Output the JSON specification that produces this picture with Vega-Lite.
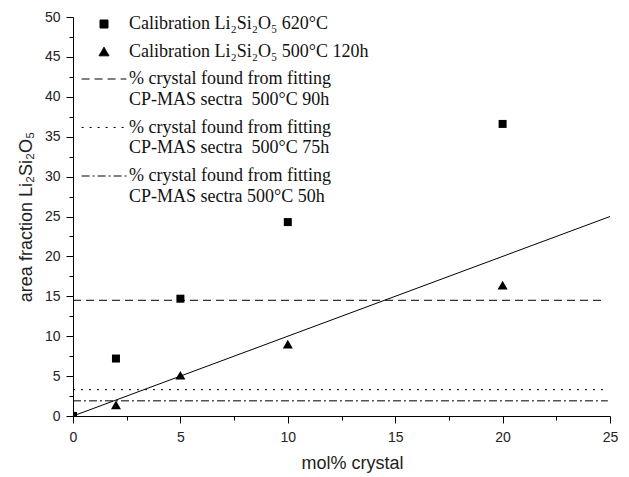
{
  "$schema": "https://vega.github.io/schema/vega-lite/v6.json",
  "width": 537,
  "height": 399,
  "autosize": "none",
  "padding": {"left": 73, "top": 17, "right": 19, "bottom": 61},
  "background": "white",
  "config": {
    "view": {"stroke": null},
    "axis": {
      "grid": false,
      "domainColor": "black",
      "domainWidth": 1,
      "tickColor": "black",
      "tickWidth": 1,
      "labelFont": "Liberation Sans",
      "labelFontSize": 14,
      "labelColor": "#222",
      "titleFont": "Liberation Sans",
      "titleFontSize": 18,
      "titleFontWeight": "normal",
      "titleColor": "#222"
    },
    "legend": {
      "labelFont": "Liberation Serif",
      "labelFontSize": 18,
      "labelColor": "#111",
      "labelLimit": 0,
      "symbolStrokeColor": "black",
      "symbolFillColor": "black",
      "symbolStrokeWidth": 1,
      "symbolSize": 64,
      "rowPadding": 9.5,
      "padding": 0
    }
  },
  "datasets": {
    "pts": [
      {"series": "Calibration Li₂Si₂O₅ 620°C", "x": 0, "y": 0},
      {"series": "Calibration Li₂Si₂O₅ 620°C", "x": 2, "y": 7.2},
      {"series": "Calibration Li₂Si₂O₅ 620°C", "x": 5, "y": 14.7},
      {"series": "Calibration Li₂Si₂O₅ 620°C", "x": 10, "y": 24.3},
      {"series": "Calibration Li₂Si₂O₅ 620°C", "x": 20, "y": 36.6},
      {"series": "Calibration Li₂Si₂O₅ 500°C 120h", "x": 2, "y": 1.4},
      {"series": "Calibration Li₂Si₂O₅ 500°C 120h", "x": 5, "y": 5.1},
      {"series": "Calibration Li₂Si₂O₅ 500°C 120h", "x": 10, "y": 9.0},
      {"series": "Calibration Li₂Si₂O₅ 500°C 120h", "x": 20, "y": 16.4}
    ],
    "refs": [
      {"series": "% crystal found from fitting|CP-MAS sectra\u00a0 500°C 90h", "x": 0, "x1": 24.7, "y": 14.5},
      {"series": "% crystal found from fitting|CP-MAS sectra\u00a0 500°C 75h", "x": 0, "x1": 24.85, "y": 3.3},
      {"series": "% crystal found from fitting|CP-MAS sectra 500°C 50h", "x": 0, "x1": 24.9, "y": 1.9}
    ],
    "fit": [
      {"x": 0, "y": 0},
      {"x": 25, "y": 25}
    ]
  },
  "encoding": {
    "x": {
      "field": "x", "type": "quantitative",
      "scale": {"domain": [0, 25], "nice": false, "zero": false},
      "axis": {
        "title": "mol% crystal",
        "values": [0, 2.5, 5, 7.5, 10, 12.5, 15, 17.5, 20, 22.5, 25],
        "labelExpr": "datum.value % 5 === 0 ? datum.label : ''",
        "tickSize": {"condition": {"test": "datum.value % 5 === 0", "value": 7}, "value": 4},
        "labelPadding": 7,
        "titlePadding": 10,
        "titleX": 279,
        "labelFlush": false
      }
    },
    "y": {
      "field": "y", "type": "quantitative",
      "scale": {"domain": [0, 50], "nice": false, "zero": false},
      "axis": {
        "title": "area fraction Li₂Si₂O₅",
        "values": [0, 2.5, 5, 7.5, 10, 12.5, 15, 17.5, 20, 22.5, 25, 27.5, 30, 32.5, 35, 37.5, 40, 42.5, 45, 47.5, 50],
        "labelExpr": "datum.value % 5 === 0 ? datum.label : ''",
        "tickSize": {"condition": {"test": "datum.value % 5 === 0", "value": 7}, "value": 4},
        "labelPadding": 6,
        "titlePadding": 9,
        "labelFlush": false
      }
    }
  },
  "layer": [
    {
      "data": {"name": "fit"},
      "mark": {"type": "line", "color": "black", "strokeWidth": 1}
    },
    {
      "data": {"name": "refs"},
      "mark": {"type": "rule", "color": "black", "strokeWidth": 1},
      "encoding": {
        "x2": {"field": "x1"},
        "strokeDash": {
          "field": "series", "type": "nominal",
          "scale": {
            "domain": ["Calibration Li₂Si₂O₅ 620°C", "Calibration Li₂Si₂O₅ 500°C 120h", "% crystal found from fitting|CP-MAS sectra\u00a0 500°C 90h", "% crystal found from fitting|CP-MAS sectra\u00a0 500°C 75h", "% crystal found from fitting|CP-MAS sectra 500°C 50h"],
            "range": [[1, 0], [1, 0], [8, 5], [2, 6], [8, 3, 2, 3]]
          },
          "legend": {
            "title": null, "orient": "none", "legendX": 22, "legendY": -2,
            "labelExpr": "indexof(datum.label, '|') >= 0 ? ['\u00a0' + split(datum.label, '|')[0], split(datum.label, '|')[1]] : '\u00a0' + datum.label",
            "labelOffset": 16,
            "encode": {
              "labels": {"update": {"lineHeight": {"value": 20.5}}}
            }
          }
        }
      }
    },
    {
      "data": {"name": "pts"},
      "mark": {"type": "point", "filled": true, "color": "black", "opacity": 1, "size": 64, "clip": true},
      "encoding": {
        "shape": {
          "field": "series", "type": "nominal",
          "scale": {
            "domain": ["Calibration Li₂Si₂O₅ 620°C", "Calibration Li₂Si₂O₅ 500°C 120h", "% crystal found from fitting|CP-MAS sectra\u00a0 500°C 90h", "% crystal found from fitting|CP-MAS sectra\u00a0 500°C 75h", "% crystal found from fitting|CP-MAS sectra 500°C 50h"],
            "range": ["square", "M0,-1.08L1.25,1.08H-1.25Z", "M-5.6,0H5.6", "M-5.6,0H5.6", "M-5.6,0H5.6"]
          },
          "legend": {
            "title": null, "orient": "none", "legendX": 22, "legendY": -2,
            "labelExpr": "indexof(datum.label, '|') >= 0 ? ['\u00a0' + split(datum.label, '|')[0], split(datum.label, '|')[1]] : '\u00a0' + datum.label",
            "labelOffset": 16,
            "encode": {
              "labels": {"update": {"lineHeight": {"value": 20.5}}}
            }
          }
        }
      }
    }
  ]
}
